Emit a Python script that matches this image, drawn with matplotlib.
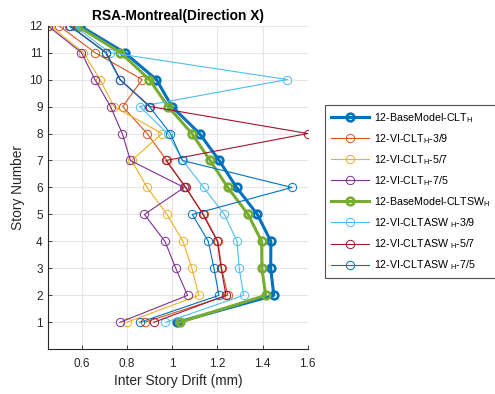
import matplotlib
matplotlib.use("Agg")
import matplotlib.pyplot as plt

plt.rcParams['font.family'] = ['Liberation Sans', 'DejaVu Sans']
plt.rcParams['mathtext.fontset'] = 'custom'
plt.rcParams['mathtext.rm'] = 'Liberation Sans'

####### Data #######
stories = [1, 2, 3, 4, 5, 6, 7, 8, 9, 10, 11, 12]

base_clt = [1.021, 1.450, 1.436, 1.437, 1.377, 1.285, 1.208, 1.121, 0.999, 0.930, 0.789, 0.590]
vi_clt_39 = [0.878, 1.246, 1.219, 1.203, 1.139, 1.058, 0.976, 0.889, 0.781, 0.867, 0.658, 0.498]
vi_clt_57 = [0.798, 1.118, 1.087, 1.048, 0.977, 0.889, 0.820, 0.955, 0.742, 0.680, 0.607, 0.459]
vi_clt_75 = [0.768, 1.068, 1.016, 0.968, 0.877, 1.053, 0.815, 0.779, 0.727, 0.658, 0.598, 0.448]
base_cltsw = [1.033, 1.414, 1.397, 1.396, 1.336, 1.246, 1.168, 1.087, 0.982, 0.899, 0.771, 0.577]
vi_asw_39 = [0.970, 1.316, 1.297, 1.287, 1.231, 1.139, 1.047, 0.980, 0.856, 1.510, 0.723, 0.565]
vi_asw_57 = [0.918, 1.238, 1.217, 1.200, 1.136, 1.061, 0.972, 1.600, 0.902, 0.770, 0.708, 0.547]
vi_asw_75 = [0.856, 1.207, 1.185, 1.160, 1.089, 1.530, 1.045, 0.992, 0.899, 0.768, 0.705, 0.544]

labels = ['12-BaseModel-CLT$_\\mathregular{H}$',
          '12-VI-CLT$_\\mathregular{H}$-3/9',
          '12-VI-CLT$_\\mathregular{H}$-5/7',
          '12-VI-CLT$_\\mathregular{H}$-7/5',
          '12-BaseModel-CLTSW$_\\mathregular{H}$',
          '12-VI-CLTASW $_\\mathregular{H}$-3/9',
          '12-VI-CLTASW $_\\mathregular{H}$-5/7',
          '12-VI-CLTASW $_\\mathregular{H}$-7/5']
colors = ['#0072BD', '#D95319', '#EDB120', '#7E2F8E',
          '#77AC30', '#4DBEEE', '#A2142F', '#0072BD']
series = [base_clt, vi_clt_39, vi_clt_57, vi_clt_75,
          base_cltsw, vi_asw_39, vi_asw_57, vi_asw_75]
thick = [True, False, False, False, True, False, False, False]

fig = plt.figure(figsize=(4.95, 3.94), dpi=100)
ax = fig.add_axes([0.096, 0.1134, 0.527, 0.8216])

for vals, lab, col, tk in zip(series, labels, colors, thick):
    if tk:
        ax.plot(vals, stories, '-o', color=col, lw=2.2, ms=5.5, mew=1.9,
                mfc='none', label=lab)
    else:
        ax.plot(vals, stories, '-o', color=col, lw=0.8, ms=6, mew=0.7,
                mfc='none', label=lab)

ax.set_xlim(0.448, 1.603)
ax.set_ylim(0, 12)
ax.set_xticks([0.6, 0.8, 1.0, 1.2, 1.4, 1.6])
ax.set_xticklabels(['0.6', '0.8', '1', '1.2', '1.4', '1.6'])
ax.set_yticks(stories)
ax.tick_params(direction='in', labelsize=8.5, length=3, width=0.6,
               colors='#262626')
ax.tick_params(axis='x', pad=6)
ax.grid(True, color='#e6e6e6', lw=0.8)
ax.set_axisbelow(True)
for s in ['top', 'right']:
    ax.spines[s].set_visible(False)
for s in ['left', 'bottom']:
    ax.spines[s].set_color('#262626')
    ax.spines[s].set_linewidth(0.8)

ax.set_title('RSA-Montreal(Direction X)', fontsize=9.9, fontweight='bold', pad=4)
ax.set_xlabel('Inter Story Drift (mm)', fontsize=9.9, color='#262626', labelpad=3)
ax.set_ylabel('Story Number', fontsize=9.9, color='#262626', labelpad=3)

leg = fig.legend(loc='center left', bbox_to_anchor=(0.657, 0.514),
                 fontsize=7.7, frameon=True, fancybox=False, edgecolor='#262626',
                 handlelength=3.5, labelspacing=0.68, borderpad=0.55,
                 handletextpad=0.5, borderaxespad=0)
leg.get_frame().set_linewidth(0.8)

plt.savefig('out.png', dpi=100)
